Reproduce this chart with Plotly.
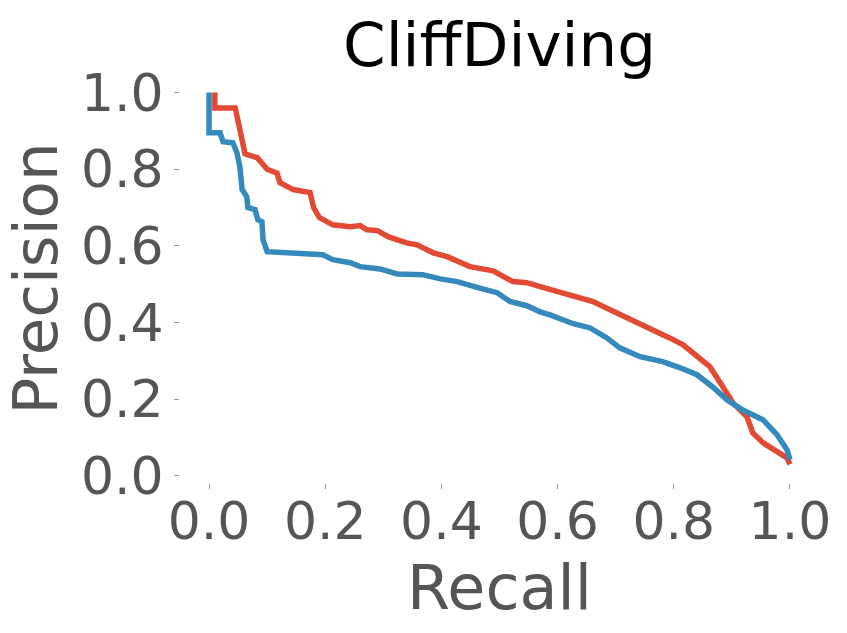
import plotly.graph_objects as go

red_recall = [0.01, 0.01, 0.045, 0.05, 0.056, 0.062, 0.083, 0.10, 0.117, 0.122, 0.145, 0.174, 0.18, 0.19, 0.213, 0.243,
              0.26, 0.272, 0.29, 0.308, 0.34, 0.358, 0.386, 0.41, 0.449, 0.489, 0.523, 0.547, 0.57,
              0.609, 0.661, 0.702, 0.747, 0.793, 0.816, 0.84, 0.862, 0.88, 0.902, 0.926, 0.936, 0.954, 0.979, 0.995, 1.0]
red_precision = [1.0, 0.96, 0.96, 0.92, 0.88, 0.84, 0.83, 0.80, 0.79, 0.765, 0.747, 0.739, 0.70, 0.674, 0.655, 0.65,
                 0.653, 0.642, 0.64, 0.624, 0.608, 0.603, 0.582, 0.572, 0.546, 0.535, 0.507, 0.504, 0.494,
                 0.478, 0.455, 0.425, 0.394, 0.36, 0.342, 0.311, 0.285, 0.243, 0.19, 0.154, 0.112, 0.086, 0.063, 0.047, 0.03]

blue_recall = [0.0, 0.0, 0.019, 0.024, 0.041, 0.048, 0.053, 0.057, 0.065, 0.067, 0.079, 0.084, 0.091, 0.093, 0.10, 0.139, 0.196,
               0.213, 0.243, 0.26, 0.294, 0.324, 0.368, 0.398, 0.427, 0.466, 0.496, 0.518, 0.547, 0.57,
               0.587, 0.627, 0.656, 0.685, 0.707, 0.742, 0.781, 0.811, 0.84, 0.867, 0.892, 0.919, 0.954, 0.978, 0.995, 1.0]
blue_precision = [1.0, 0.895, 0.895, 0.872, 0.869, 0.843, 0.807, 0.747, 0.728, 0.70, 0.695, 0.668, 0.663, 0.616, 0.585, 0.582, 0.577,
                  0.564, 0.556, 0.546, 0.54, 0.527, 0.525, 0.514, 0.507, 0.49, 0.478, 0.455, 0.444, 0.428,
                  0.42, 0.397, 0.386, 0.36, 0.334, 0.311, 0.298, 0.282, 0.264, 0.232, 0.198, 0.172, 0.146, 0.107, 0.068, 0.042]

tick_vals = [0.0, 0.2, 0.4, 0.6, 0.8, 1.0]
tick_text = ["0.0", "0.2", "0.4", "0.6", "0.8", "1.0"]

fig = go.Figure()
fig.add_trace(go.Scatter(x=red_recall, y=red_precision, mode="lines",
                         line=dict(color="#E24A33", width=5.5), showlegend=False))
fig.add_trace(go.Scatter(x=blue_recall, y=blue_precision, mode="lines",
                         line=dict(color="#348ABD", width=5.5), showlegend=False))

font_family = "DejaVu Sans"
fig.update_layout(
    width=847, height=633,
    margin=dict(l=180, r=28, t=74, b=150),
    paper_bgcolor="white", plot_bgcolor="white",
    title=dict(text="CliffDiving", x=0.5, xref="paper", xanchor="center", y=0.93, yanchor="middle",
               font=dict(family=font_family, size=61, color="black")),
    font=dict(family=font_family, color="#555555"),
)
fig.update_xaxes(range=[-0.05, 1.05], tickvals=tick_vals, ticktext=tick_text,
                 showgrid=False, zeroline=False, showline=False,
                 ticks="outside", ticklen=5, tickwidth=1, tickcolor="#999999",
                 tickfont=dict(size=52, color="#555555"), ticklabelstandoff=-12,
                 title=dict(text="Recall", font=dict(size=62, color="#555555"), standoff=0))
fig.update_yaxes(range=[-0.0185, 1.0485], tickvals=tick_vals, ticktext=tick_text,
                 showgrid=False, zeroline=False, showline=False,
                 ticks="outside", ticklen=5, tickwidth=1, tickcolor="#999999",
                 tickfont=dict(size=52, color="#555555"),
                 title=dict(text="Precision", font=dict(size=61, color="#555555"), standoff=10))

fig.write_html("out.html")
